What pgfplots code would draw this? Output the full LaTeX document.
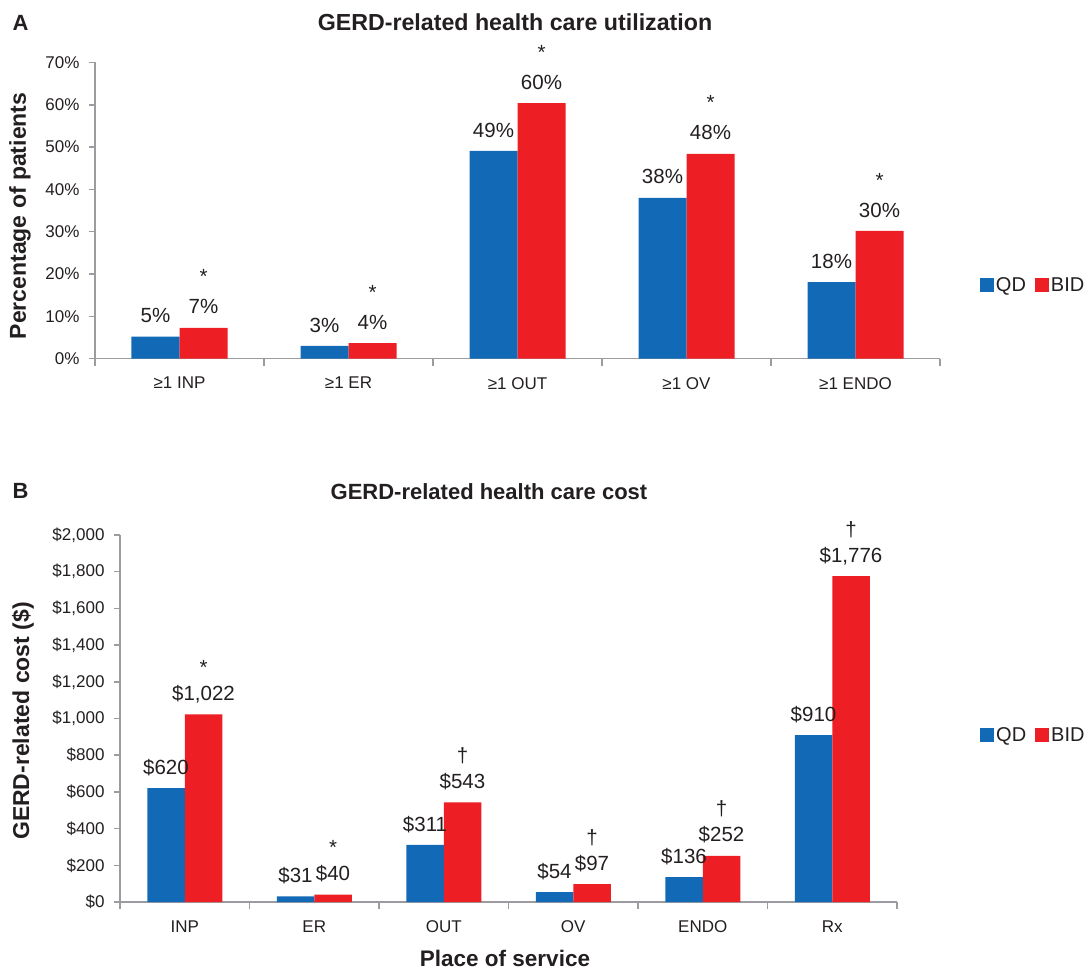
\documentclass[border=0pt]{standalone}
\usepackage{pgfplots}
\pgfplotsset{compat=1.18}
\usepackage{fontspec}
\setmainfont{Liberation Sans}

\definecolor{qdblue}{RGB}{18,106,182}
\definecolor{bidred}{RGB}{237,30,36}
\definecolor{axgray}{RGB}{155,155,160}
\definecolor{txt}{RGB}{35,31,32}

\newcommand\fs[2]{\fontsize{#1}{#2}\selectfont}

\pgfplotsset{gerd/.style={
    scale only axis, anchor=south west, clip=false,
    axis x line=bottom, axis y line=left,
    axis line style={-, draw=axgray, line width=1.5pt},
    tick align=outside,
    major tick length=6pt, minor tick length=7pt,
    tick style={draw=axgray, line width=1.5pt},
    major x tick style={draw=none},
    ticklabel style={font=\fs{17}{20}, text=txt},
    yticklabel style={xshift=-6pt},
    xticklabel style={yshift=-9pt},
    scaled y ticks=false,
    ybar=0pt,
    nodes near coords, point meta=explicit symbolic,
    every node near coord/.append style={text=txt, align=center,
      inner sep=0pt, text depth=0pt, yshift=13.7pt},
    legend style={draw=none, fill=none, legend columns=2, anchor=west,
      font=\fs{20}{24}, text=txt,
      /tikz/every even column/.append style={column sep=7pt}},
    legend image code/.code={\fill[##1] (0pt,-7pt) rectangle (14pt,7pt);},
  }}

\begin{document}
\begin{tikzpicture}
\path[use as bounding box] (0,0) rectangle (1092pt,969pt);

% panel A: utilization
\begin{axis}[gerd,
    at={(95pt,610.3pt)}, width=845pt, height=296.2pt,
    xmin=-0.5, xmax=4.5, ymin=0, ymax=70,
    bar width=48pt,
    xtick={0,...,4},
    xticklabels={≥1 INP, ≥1 ER, ≥1 OUT, ≥1 OV, ≥1 ENDO},
    minor xtick={-0.5,0.5,1.5,2.5,3.5,4.5},
    ytick={0,10,...,70},
    yticklabels={0\%,10\%,20\%,30\%,40\%,50\%,60\%,70\%},
    every node near coord/.append style={font=\fs{20.5}{30}},
    legend style={at={(1.0435,0.249)}},
  ]
\addplot[fill=qdblue, draw=none] coordinates {
  (0,5.2) [5\%]
  (1,3.0) [3\%]
  (2,49.1) [49\%]
  (3,38.0) [38\%]
  (4,18.1) [18\%]
};
\addlegendentry{QD}
\addplot[fill=bidred, draw=none] coordinates {
  (0,7.3) [{*\\7\%}]
  (1,3.7) [{*\\4\%}]
  (2,60.4) [{*\\60\%}]
  (3,48.4) [{*\\48\%}]
  (4,30.2) [{*\\30\%}]
};
\addlegendentry{BID}
\end{axis}

% panel B: cost
\begin{axis}[gerd,
    at={(120pt,67pt)}, width=777pt, height=367pt,
    xmin=-0.5, xmax=5.5, ymin=0, ymax=2000,
    bar width=37.5pt,
    xtick={0,...,5},
    xticklabels={INP, ER, OUT, OV, ENDO, Rx},
    minor xtick={-0.5,0.5,1.5,2.5,3.5,4.5,5.5},
    ytick={0,200,...,2000},
    yticklabels={{\$0},{\$200},{\$400},{\$600},{\$800},{\$1,000},{\$1,200},{\$1,400},{\$1,600},{\$1,800},{\$2,000}},
    every node near coord/.append style={font=\fs{20.5}{26}},
    legend style={at={(1.103,0.455)}},
  ]
\addplot[fill=qdblue, draw=none] coordinates {
  (0,620) [\$620]
  (1,31) [\$31]
  (2,311) [\$311]
  (3,54) [\$54]
  (4,136) [\$136]
  (5,910) [\$910]
};
\addlegendentry{QD}
\addplot[fill=bidred, draw=none] coordinates {
  (0,1022) [{*\\\$1,022}]
  (1,40) [{*\\\$40}]
  (2,543) [{†\\\$543}]
  (3,97) [{†\\\$97}]
  (4,252) [{†\\\$252}]
  (5,1776) [{†\\\$1,776}]
};
\addlegendentry{BID}
\end{axis}

% titles and labels
\node[font=\bfseries\fs{22}{26}, text=txt] at (20.5pt,946pt) {A};
\node[font=\bfseries\fs{23.2}{27}, text=txt] at (515pt,947pt) {GERD-related health care utilization};
\node[font=\bfseries\fs{23}{27}, text=txt, rotate=90] at (20pt,753pt) {Percentage of patients};
\node[font=\bfseries\fs{22}{26}, text=txt] at (20.5pt,478.5pt) {B};
\node[font=\bfseries\fs{22}{26}, text=txt] at (489pt,477.3pt) {GERD-related health care cost};
\node[font=\bfseries\fs{23}{27}, text=txt, rotate=90] at (23pt,248pt) {GERD-related cost (\$)};
\node[font=\bfseries\fs{22.5}{26}, text=txt] at (505pt,11pt) {Place of service};
\end{tikzpicture}
\end{document}
